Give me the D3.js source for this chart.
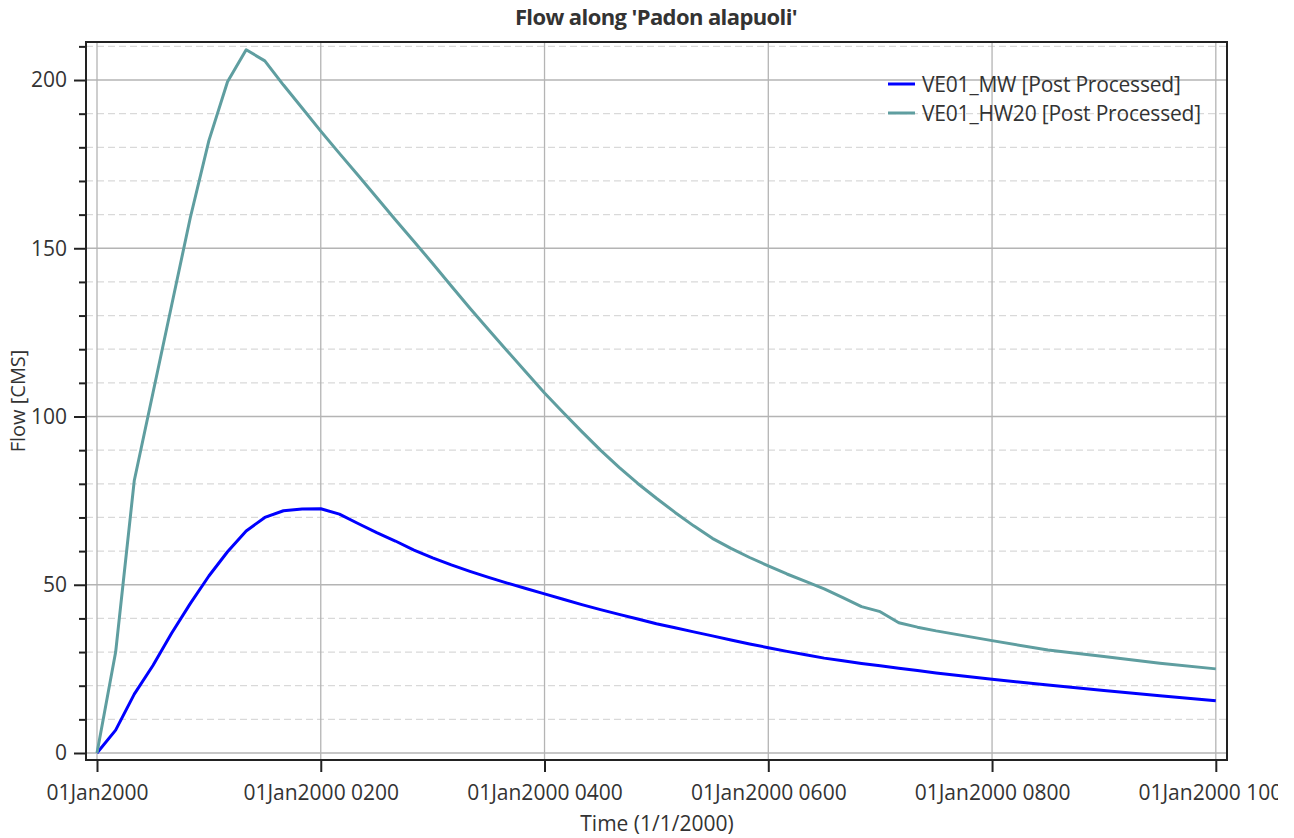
<html>
<head>
  <title>Flow along 'Padon alapuoli'</title>
  <script src="https://cdn.jsdelivr.net/npm/d3@7"></script>
<style type="text/css">
body { margin: 0; background: #fff; }
text { font-family: "Open Sans", "Noto Sans", sans-serif; fill: #333; }
</style>
</head>
<body>
<script type="text/javascript">
// time in minutes after 01Jan2000 0000 (10 min steps, 30 min at the tail)
var minutes = [0, 10, 20, 30, 40, 50, 60, 70, 80, 90, 100, 110, 120, 130, 140, 150, 160, 170, 180,
               190, 200, 210, 220, 230, 240, 250, 260, 270, 280, 290, 300, 310, 320, 330, 340, 350, 360,
               370, 380, 390, 400, 410, 420, 430, 440, 450, 480, 510, 540, 570, 600];
var flowMW = [0, 6.8, 17.5, 26, 35.6, 44.4, 52.6, 59.8, 66, 70, 72, 72.5, 72.6, 71, 68.2, 65.5, 63, 60.3, 58,
              55.9, 54, 52.2, 50.5, 48.9, 47.3, 45.7, 44.1, 42.6, 41.2, 39.8, 38.4, 37.2, 36, 34.8, 33.6, 32.4, 31.3,
              30.2, 29.2, 28.2, 27.4, 26.6, 25.9, 25.2, 24.5, 23.8, 21.9, 20.2, 18.6, 17, 15.5];
var flowHW20 = [0, 30, 81, 107, 133, 159, 182, 199.5, 209, 205.7, 198.5, 191.7, 184.8, 178.2, 171.7, 165.1, 158.5, 152, 145.5,
                138.8, 132.2, 125.8, 119.5, 113.2, 107, 101.2, 95.5, 90, 84.9, 80.1, 75.7, 71.5, 67.5, 63.8, 60.8, 58.1, 55.6,
                53.2, 51, 48.8, 46.2, 43.5, 42, 38.7, 37.4, 36.3, 33.4, 30.6, 28.7, 26.7, 25];
var seriesNames = ['VE01_MW [Post Processed]', 'VE01_HW20 [Post Processed]'];
var seriesColors = ['#0000ff', '#5f9ea0'];
var xTicks = [0, 120, 240, 360, 480, 600];
var xTickLabels = ['01Jan2000', '01Jan2000 0200', '01Jan2000 0400', '01Jan2000 0600', '01Jan2000 0800', '01Jan2000 1000'];
var yTicks = [0, 50, 100, 150, 200];
var yMinor = d3.range(0, 211, 10);

var w = 1294, h = 838;
// plot frame edges (don't use "top" - it's window.top)
var pL = 86, pR = 1227, pT = 42, pB = 760;

var x = d3.scaleLinear().domain([-5.9, 606]).range([pL, pR]);
var y = d3.scaleLinear().domain([-2.08, 211.3]).range([pB, pT]);

var svg = d3.select('body').append('svg')
  .attr('width', w)
  .attr('height', h);

var defs = svg.append('defs');
defs.append('clipPath').attr('id', 'pageclip')
  .append('rect').attr('x', 0).attr('y', 0).attr('width', 1278).attr('height', h);
defs.append('clipPath').attr('id', 'plotclip')
  .append('rect').attr('x', pL).attr('y', pT).attr('width', pR - pL).attr('height', pB - pT);

// minor dashed grid
svg.append('g').selectAll('line')
  .data(yMinor.filter(function(d) { return yTicks.indexOf(d) < 0; }))
  .enter().append('line')
  .attr('x1', pL).attr('x2', pR)
  .attr('y1', function(d) { return y(d); })
  .attr('y2', function(d) { return y(d); })
  .attr('stroke', '#d9d9d9')
  .attr('stroke-width', 1.2)
  .attr('stroke-dasharray', '7,4');

// major grid
svg.append('g').selectAll('line')
  .data(yTicks).enter().append('line')
  .attr('x1', pL).attr('x2', pR)
  .attr('y1', function(d) { return y(d); })
  .attr('y2', function(d) { return y(d); })
  .attr('stroke', '#b4b4b4')
  .attr('stroke-width', 1.3);
svg.append('g').selectAll('line')
  .data(xTicks).enter().append('line')
  .attr('y1', pT).attr('y2', pB)
  .attr('x1', function(d) { return x(d); })
  .attr('x2', function(d) { return x(d); })
  .attr('stroke', '#b4b4b4')
  .attr('stroke-width', 1.3);

// axes
var yAxis = d3.axisLeft(y).tickValues(yMinor).tickSize(6).tickPadding(8)
  .tickFormat(function(d) { return yTicks.indexOf(d) >= 0 ? d : ''; });
var gy = svg.append('g').attr('transform', 'translate(' + pL + ',0)').call(yAxis);
gy.select('.domain').remove();
gy.selectAll('.tick line')
  .attr('x2', function(d) { return yTicks.indexOf(d) >= 0 ? -12 : -7; })
  .attr('stroke', '#222').attr('stroke-width', 2);
gy.selectAll('.tick text').attr('x', -19).style('font-size', '21px').attr('fill', '#333');

var xAxis = d3.axisBottom(x).tickValues(xTicks).tickSize(12).tickPadding(13)
  .tickFormat(function(d, i) { return xTickLabels[i]; });
var gx = svg.append('g').attr('transform', 'translate(0,' + pB + ')')
  .attr('clip-path', 'url(#pageclip)')
  .call(xAxis);
gx.select('.domain').remove();
gx.selectAll('.tick line').attr('stroke', '#222').attr('stroke-width', 2);
gx.selectAll('.tick text').style('font-size', '21px').attr('fill', '#333');

// lines
var series = [flowMW, flowHW20];
var line = d3.line()
  .x(function(d, i) { return x(minutes[i]); })
  .y(function(d) { return y(d); });
svg.append('g').attr('clip-path', 'url(#plotclip)')
  .selectAll('path').data(series).enter().append('path')
  .attr('d', line)
  .attr('fill', 'none')
  .attr('stroke', function(d, i) { return seriesColors[i]; })
  .attr('stroke-width', 3)
  .attr('stroke-linejoin', 'round');

// frame
svg.append('rect')
  .attr('x', pL).attr('y', pT)
  .attr('width', pR - pL).attr('height', pB - pT)
  .attr('fill', 'none')
  .attr('stroke', '#222')
  .attr('stroke-width', 2);

// legend
var legend = svg.append('g').selectAll('g')
  .data(seriesNames).enter().append('g')
  .attr('transform', function(d, i) { return 'translate(888,' + (84 + i * 29) + ')'; });
legend.append('line')
  .attr('x1', 0).attr('x2', 27)
  .attr('stroke', function(d, i) { return seriesColors[i]; })
  .attr('stroke-width', 3);
legend.append('text')
  .attr('x', 34).attr('y', 8)
  .style('font-size', '21px')
  .style('letter-spacing', '-0.2px')
  .text(function(d) { return d; });

// titles
svg.append('text')
  .attr('x', 656).attr('y', 25)
  .attr('text-anchor', 'middle')
  .style('font-size', '22px')
  .style('font-weight', 'bold')
  .style('letter-spacing', '-0.6px')
  .attr('fill', '#111')
  .text("Flow along 'Padon alapuoli'");

svg.append('text')
  .attr('x', 657).attr('y', 831)
  .attr('text-anchor', 'middle')
  .style('font-size', '21px')
  .text('Time (1/1/2000)');

svg.append('text')
  .attr('transform', 'translate(25,401) rotate(-90)')
  .attr('text-anchor', 'middle')
  .style('font-size', '20px')
  .text('Flow [CMS]');
</script>
</body>
</html>
